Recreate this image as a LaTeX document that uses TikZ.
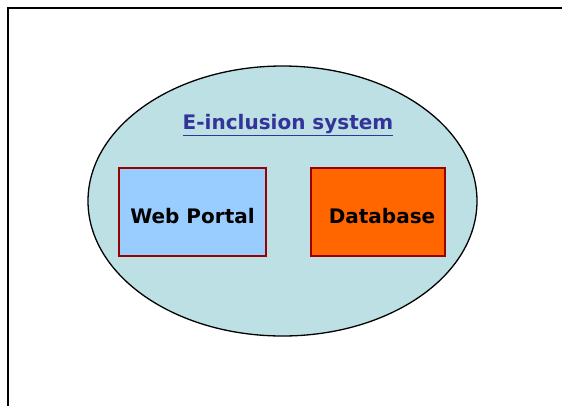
\documentclass[tikz,border=0pt]{standalone}
\usepackage{fontspec}
\setmainfont{DejaVu Sans}
\usetikzlibrary{shapes.geometric}
\definecolor{cloudfill}{HTML}{BCE0E3}
\definecolor{portalfill}{HTML}{99CCFF}
\definecolor{dbfill}{HTML}{FF6600}
\definecolor{boxedge}{HTML}{990000}
\definecolor{titleblue}{HTML}{333399}
\tikzset{
  compbox/.style={draw=boxedge, line width=1.3pt, minimum width=#1, minimum height=88pt,
    inner sep=0pt},
  boxlabel/.style={font=\bfseries\fontsize{20}{24}\selectfont},
}
\begin{document}
\begin{tikzpicture}[x=1pt,y=-1pt]
  \useasboundingbox (0,0) rectangle (562,405);
  \clip (0,0) rectangle (562,405);
  % outer frame, running off the right and bottom edges
  \draw[line width=2pt] (8,8) rectangle (600,450);
  % system boundary
  \node[ellipse, draw=black, line width=1.3pt, fill=cloudfill,
        minimum width=389pt, minimum height=270pt, inner sep=0pt] (sys) at (282.5,201) {};
  \node[text=titleblue, boxlabel] (title) at (288,125)
    {\underline{E-inclusion system}};
  \node[compbox=147pt, fill=portalfill] (portal) at (192.5,212) {};
  \node[boxlabel] (portallabel) at (192.5,216) {Web Portal};
  \node[compbox=134pt, fill=dbfill] (db) at (378,212) {};
  \node[boxlabel] (dblabel) at (382,216) {Database};
\end{tikzpicture}
\end{document}
